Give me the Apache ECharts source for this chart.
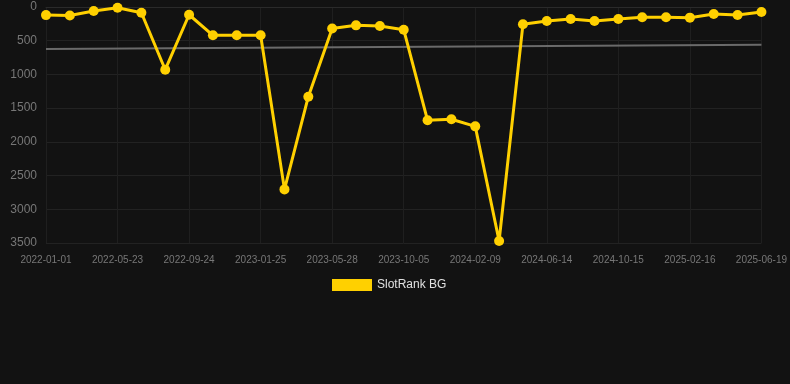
<!DOCTYPE html>
<html lang="en" style="height: 100%">
<head>
<meta charset="utf-8">
<title>SlotRank BG</title>
</head>
<body style="height: 100%; margin: 0; background: #121212">
<div id="container" style="height: 100%"></div>

<script type="text/javascript" src="https://cdn.jsdelivr.net/npm/echarts@6/dist/echarts.min.js"></script>

<script type="text/javascript">
var dom = document.getElementById('container');
var myChart = echarts.init(dom);

// dates (only every third one is labelled on the axis)
const dates = [
    '2022-01-01', '2022-02-17', '2022-04-05', '2022-05-23', '2022-07-03', '2022-08-13',
    '2022-09-24', '2022-11-04', '2022-12-15', '2023-01-25', '2023-03-07', '2023-04-17',
    '2023-05-28', '2023-07-09', '2023-08-22', '2023-10-05', '2023-11-16', '2023-12-28',
    '2024-02-09', '2024-03-21', '2024-05-02', '2024-06-14', '2024-07-25', '2024-09-04',
    '2024-10-15', '2024-11-25', '2025-01-06', '2025-02-16', '2025-03-31', '2025-05-10',
    '2025-06-19'
];

// rank values (lower is better, axis inverted)
const rankBG = [
    120, 125, 60, 10, 85, 930, 115, 420, 420, 420,
    2705, 1330, 320, 272, 282, 337, 1680, 1665, 1770, 3470,
    257, 208, 178, 208, 178, 153, 153, 158, 104, 119,
    74
];

// trend line: start and end values only
const trendStart = 623;
const trendEnd = 559;
const trend = dates.map(function (d, i) {
    if (i === 0) return trendStart;
    if (i === dates.length - 1) return trendEnd;
    return null;
});

var option = {
    backgroundColor: '#121212',
    animation: false,
    grid: {
        left: 46,
        right: 28,
        top: 7,
        bottom: 141
    },
    legend: {
        data: ['SlotRank BG'],
        top: 279,
        left: 332,
        padding: 0,
        itemWidth: 40,
        itemHeight: 12,
        itemGap: 6,
        icon: 'rect',
        textStyle: { color: '#e0e0e0', fontSize: 12 }
    },
    xAxis: {
        type: 'category',
        data: dates,
        boundaryGap: false,
        axisLine: { lineStyle: { color: '#2a2a2a' } },
        axisTick: { show: false },
        axisLabel: {
            interval: 2,
            color: '#777',
            fontSize: 10,
            margin: 12
        },
        splitLine: {
            show: true,
            interval: 2,
            lineStyle: { color: '#1f1f1f' }
        }
    },
    yAxis: {
        type: 'value',
        inverse: true,
        min: 0,
        max: 3500,
        interval: 500,
        axisLine: { show: false },
        axisTick: { show: false },
        axisLabel: {
            color: '#777',
            fontSize: 12,
            margin: 9,
            formatter: function (v) { return String(v); }
        },
        splitLine: { lineStyle: { color: '#222' } }
    },
    series: [
        {
            name: 'SlotRank BG',
            type: 'line',
            data: rankBG,
            color: '#ffd000',
            symbol: 'circle',
            symbolSize: 10,
            lineStyle: { width: 3, color: '#ffd000' },
            itemStyle: { color: '#ffd000' },
            z: 3
        },
        {
            name: 'Trend',
            type: 'line',
            data: trend,
            connectNulls: true,
            showSymbol: false,
            symbol: 'none',
            lineStyle: { width: 2, color: '#6a6a6a' },
            z: 2
        }
    ]
};

myChart.setOption(option);
window.addEventListener('resize', myChart.resize);
</script>
</body>
</html>
